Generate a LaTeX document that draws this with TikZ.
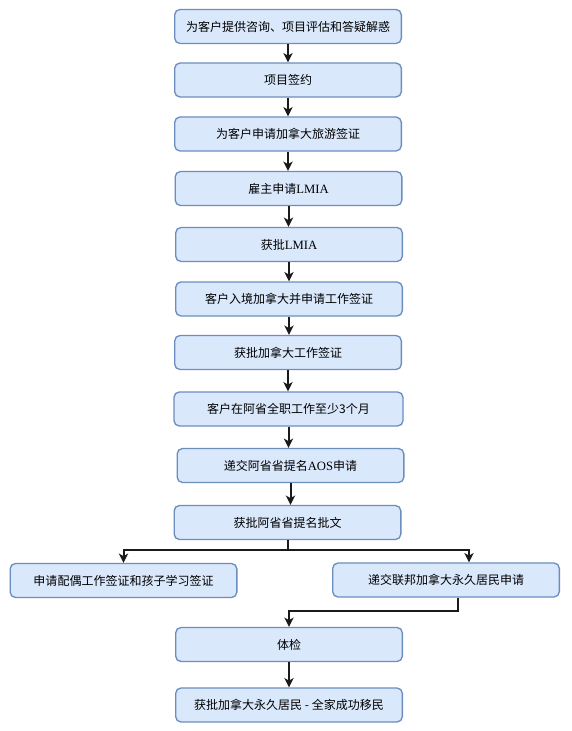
\documentclass[tikz,border=0pt]{standalone}
\usepackage{fontspec}
\setmainfont{Noto Sans CJK SC}
\newfontfamily\latserif{Liberation Serif}
\usetikzlibrary{arrows.meta}
\definecolor{boxfill}{HTML}{DAE8FC}
\definecolor{boxline}{HTML}{6C8EBF}
\definecolor{arrcol}{HTML}{1A1A1A}
\begin{document}
\begin{tikzpicture}[x=0.75pt,y=-0.75pt,
  box/.style={draw=boxline,fill=boxfill,line width=1pt,rounded corners=4pt,
    minimum width=170pt,minimum height=25.5pt,inner sep=0pt,
    font=\fontsize{9pt}{11pt}\selectfont,text=black},
  arr/.style={draw=arrcol,line width=1.5pt,-{Stealth[length=7pt,width=7pt,inset=2pt]}}]
\useasboundingbox (0,0) rectangle (571,731);
\node[box] (b1) at (288,26.5) {为客户提供咨询、项目评估和答疑解惑};
\node[box] (b2) at (288,80) {项目签约};
\node[box] (b3) at (288,134) {为客户申请加拿大旅游签证};
\node[box] (b4) at (288.5,188.5) {雇主申请{\latserif\fontsize{9.5pt}{11pt}\selectfont LMIA}};
\node[box] (b5) at (289,244.5) {获批{\latserif\fontsize{9.5pt}{11pt}\selectfont LMIA}};
\node[box] (b6) at (289,299) {客户入境加拿大并申请工作签证};
\node[box] (b7) at (288,352.5) {获批加拿大工作签证};
\node[box,minimum width=171.75pt] (b8) at (288.5,409) {客户在阿省全职工作至少3个月};
\node[box] (b9) at (290.5,465.5) {递交阿省省提名{\latserif\fontsize{9.5pt}{11pt}\selectfont AOS}申请};
\node[box] (b10) at (287.5,522.5) {获批阿省省提名批文};
\node[box] (L) at (123.5,580.5) {申请配偶工作签证和孩子学习签证};
\node[box] (R) at (446,580) {递交联邦加拿大永久居民申请};
\node[box] (b11) at (289,644.5) {体检};
\node[box] (b12) at (289,705) {获批加拿大永久居民 - 全家成功移民};
\coordinate (jy) at (0,550);
\draw[arr] (b1.south) -- (b1.south |- b2.north);
\draw[arr] (b2.south) -- (b2.south |- b3.north);
\draw[arr] (b3.south) -- (b3.south |- b4.north);
\draw[arr] (b4.south) -- (b4.south |- b5.north);
\draw[arr] (b5.south) -- (b5.south |- b6.north);
\draw[arr] (b6.south) -- (b6.south |- b7.north);
\draw[arr] (b7.south) -- (b7.south |- b8.north);
\draw[arr] (b8.south) -- (b8.south |- b9.north);
\draw[arr] (b9.south) -- (b9.south |- b10.north);
\draw[arr] (b10.south) -- (b10.south |- jy) -| (L.north);
\draw[arr] (b10.south) -- (b10.south |- jy) -| ([xshift=17.25pt]R.north);
\draw[arr] ([xshift=9pt]R.south) -- ++(0,13) -| (b11.north);
\draw[arr] (b11.south) -- (b11.south |- b12.north);
\end{tikzpicture}
\end{document}
